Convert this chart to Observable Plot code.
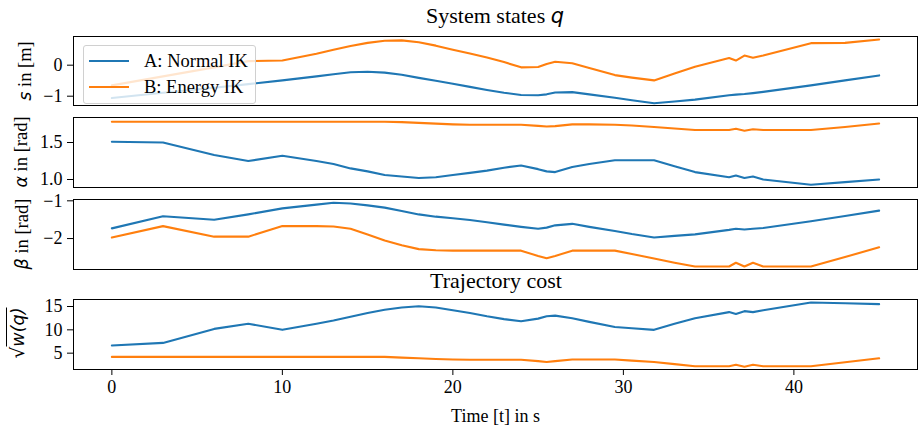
<!DOCTYPE html>
<html>
<head>
<meta charset="utf-8">
<script src="https://cdn.jsdelivr.net/npm/d3@7"></script>
<script src="https://cdn.jsdelivr.net/npm/@observablehq/plot@0.6"></script>
<style>
  html, body { margin: 0; padding: 0; background: #fff; }
  #wrap { position: relative; width: 919px; height: 425px; font-family: "Liberation Serif", "Times New Roman", serif; color: #000; }
  #wrap svg { position: absolute; left: 0; }
  #wrap svg text { font-family: "Liberation Serif", "Times New Roman", serif !important; font-size: 18px !important; }
  .ttl { position: absolute; transform: translate(-50%, -50%); font-size: 22px; white-space: nowrap; }
  .ylab { position: absolute; transform: translate(-50%, -50%) rotate(-90deg); font-size: 18.5px; white-space: nowrap; }
  .m { font-family: "DejaVu Sans", sans-serif; font-style: italic; font-size: 0.95em; }
  #legend { position: absolute; left: 83px; top: 45px; width: 173px; height: 59px; border: 1px solid #d0d0d0; border-radius: 3px; background: rgba(255,255,255,0.8); box-sizing: border-box; font-size: 18.5px; }
  .lrow { position: absolute; left: 5px; height: 20px; display: flex; align-items: center; white-space: nowrap; }
  .lline { width: 40px; height: 0; border-top: 2.2px solid; margin-right: 15px; }
</style>
</head>
<body>
<div id="wrap"></div>
<script>
// Time stamps (s)
const time = [0, 3, 6, 8, 10, 12, 13, 14, 15, 16, 17, 18, 19, 20, 21, 22, 23, 24, 25, 25.5, 26, 27, 28, 29.5, 30.5, 31.8, 33, 34.2, 36.2, 36.6, 37.1, 37.6, 38.2, 41, 43, 45];
const seriesNames = ["A: Normal IK", "B: Energy IK"];
const seriesColors = ["#1f77b4", "#ff7f0e"];

// s in [m]
const sA = [-1.06, -0.89, -0.73, -0.61, -0.49, -0.36, -0.29, -0.23, -0.21, -0.24, -0.31, -0.41, -0.50, -0.60, -0.70, -0.80, -0.89, -0.96, -0.97, -0.94, -0.88, -0.87, -0.94, -1.05, -1.13, -1.23, -1.17, -1.11, -0.97, -0.95, -0.93, -0.90, -0.86, -0.65, -0.49, -0.33];
const sB = [-0.65, -0.36, -0.07, 0.13, 0.15, 0.37, 0.50, 0.62, 0.72, 0.79, 0.80, 0.74, 0.63, 0.50, 0.38, 0.25, 0.10, -0.07, -0.06, 0.04, 0.11, 0.06, -0.09, -0.32, -0.40, -0.49, -0.27, -0.05, 0.23, 0.15, 0.31, 0.24, 0.31, 0.71, 0.72, 0.83];
// alpha in [rad]
const alphaA = [1.51, 1.50, 1.33, 1.25, 1.32, 1.25, 1.21, 1.15, 1.11, 1.06, 1.04, 1.02, 1.03, 1.06, 1.09, 1.12, 1.16, 1.19, 1.14, 1.11, 1.10, 1.17, 1.21, 1.26, 1.26, 1.26, 1.18, 1.10, 1.03, 1.055, 1.02, 1.04, 1.00, 0.93, 0.965, 1.00];
const alphaB = [1.78, 1.78, 1.78, 1.78, 1.78, 1.78, 1.78, 1.78, 1.78, 1.78, 1.775, 1.765, 1.755, 1.745, 1.74, 1.74, 1.74, 1.74, 1.725, 1.716, 1.722, 1.745, 1.745, 1.74, 1.73, 1.71, 1.69, 1.67, 1.67, 1.685, 1.66, 1.68, 1.67, 1.67, 1.71, 1.757];
// beta in [rad]
const betaA = [-1.73, -1.41, -1.50, -1.36, -1.20, -1.10, -1.05, -1.07, -1.12, -1.18, -1.27, -1.36, -1.42, -1.46, -1.51, -1.57, -1.63, -1.69, -1.74, -1.71, -1.65, -1.61, -1.69, -1.80, -1.88, -1.97, -1.93, -1.89, -1.77, -1.74, -1.76, -1.74, -1.72, -1.54, -1.40, -1.26];
const betaB = [-1.97, -1.67, -1.95, -1.95, -1.67, -1.67, -1.68, -1.74, -1.89, -2.05, -2.18, -2.28, -2.31, -2.32, -2.32, -2.32, -2.32, -2.32, -2.46, -2.52, -2.46, -2.32, -2.32, -2.32, -2.41, -2.53, -2.64, -2.74, -2.74, -2.64, -2.74, -2.64, -2.74, -2.74, -2.49, -2.23];
// sqrt(w(q))
const costA = [6.65, 7.2, 10.2, 11.3, 10.0, 11.3, 12.0, 12.8, 13.6, 14.3, 14.8, 15.05, 14.8, 14.2, 13.6, 12.9, 12.3, 11.85, 12.4, 12.9, 13.05, 12.5, 11.7, 10.6, 10.35, 10.0, 11.3, 12.5, 13.8, 13.4, 14.0, 13.8, 14.2, 15.85, 15.7, 15.5];
const costB = [4.2, 4.2, 4.2, 4.2, 4.2, 4.2, 4.2, 4.2, 4.2, 4.2, 4.05, 3.9, 3.75, 3.65, 3.6, 3.6, 3.6, 3.6, 3.3, 3.1, 3.3, 3.65, 3.65, 3.65, 3.4, 3.1, 2.65, 2.2, 2.2, 2.5, 2.1, 2.5, 2.2, 2.2, 3.05, 3.9];

// Axis ticks
const xTicks = [0, 10, 20, 30, 40];
const sTicks = [-1, 0];
const alphaTicks = [1.0, 1.5];
const betaTicks = [-2, -1];
const costTicks = [5, 10, 15];

// Long table
const rows = [];
time.forEach((t, i) => {
  rows.push({t, series: seriesNames[0], s: sA[i], alpha: alphaA[i], beta: betaA[i], cost: costA[i]});
});
time.forEach((t, i) => {
  rows.push({t, series: seriesNames[1], s: sB[i], alpha: alphaB[i], beta: betaB[i], cost: costB[i]});
});

const wrap = document.getElementById("wrap");

function panel({key, top, height, domain, ticks, fmt, mb, xaxis}) {
  const p = Plot.plot({
    width: 919, height,
    marginLeft: 73, marginRight: 2, marginTop: 1, marginBottom: mb,
    style: {fontFamily: "Liberation Serif", fontSize: "18px", background: "transparent", color: "#000", overflow: "visible"},
    x: xaxis
      ? {domain: [-2.25, 47.25], ticks: xTicks, tickSize: 6, tickPadding: 5, label: "Time [t] in s", labelAnchor: "center", labelArrow: "none", labelOffset: 52}
      : {domain: [-2.25, 47.25], axis: null},
    y: {domain, ticks, tickFormat: fmt, tickSize: 6, tickPadding: 5, label: null},
    color: {domain: seriesNames, range: seriesColors},
    marks: [
      Plot.lineY(rows, {x: "t", y: key, stroke: "series", z: "series", strokeWidth: 2.1, curve: "linear"}),
      Plot.frame({stroke: "#000", strokeWidth: 1})
    ]
  });
  p.style.top = top + "px";
  wrap.appendChild(p);
}

panel({key: "s", top: 35, height: 71, domain: [-1.30, 0.925], ticks: sTicks, fmt: d3.format("d"), mb: 1, xaxis: false});
panel({key: "alpha", top: 116, height: 72, domain: [0.892, 1.838], ticks: alphaTicks, fmt: d3.format(".1f"), mb: 1, xaxis: false});
panel({key: "beta", top: 198, height: 72, domain: [-2.82, -0.965], ticks: betaTicks, fmt: d3.format("d"), mb: 1, xaxis: false});
panel({key: "cost", top: 298, height: 127, domain: [1.5, 16.5], ticks: costTicks, fmt: d3.format("d"), mb: 56, xaxis: true});

function addHTML(html) { const d = document.createElement("div"); d.innerHTML = html; wrap.appendChild(d.firstElementChild); }

addHTML(`<div class="ttl" style="left:495px;top:16px">System states <span class="m">q</span></div>`);
addHTML(`<div class="ttl" style="left:496px;top:281px">Trajectory cost</div>`);
addHTML(`<div class="ylab" style="left:25px;top:71px"><span class="m">s</span> in [m]</div>`);
addHTML(`<div class="ylab" style="left:21px;top:152px"><span class="m">α</span> in [rad]</div>`);
addHTML(`<div class="ylab" style="left:22px;top:234px"><span class="m">β</span> in [rad]</div>`);
addHTML(`<div class="ylab" style="left:18px;top:333px"><span style="font-family:'DejaVu Sans'">√</span><span class="m" style="border-top:1.3px solid #000;padding-top:1px">w(q)</span></div>`);

const legend = document.createElement("div");
legend.id = "legend";
seriesNames.forEach((name, i) => {
  const r = document.createElement("div");
  r.className = "lrow";
  r.style.top = (5 + i * 26) + "px";
  r.innerHTML = `<div class="lline" style="border-color:${seriesColors[i]}"></div><span>${name}</span>`;
  legend.appendChild(r);
});
wrap.appendChild(legend);
</script>
</body>
</html>
